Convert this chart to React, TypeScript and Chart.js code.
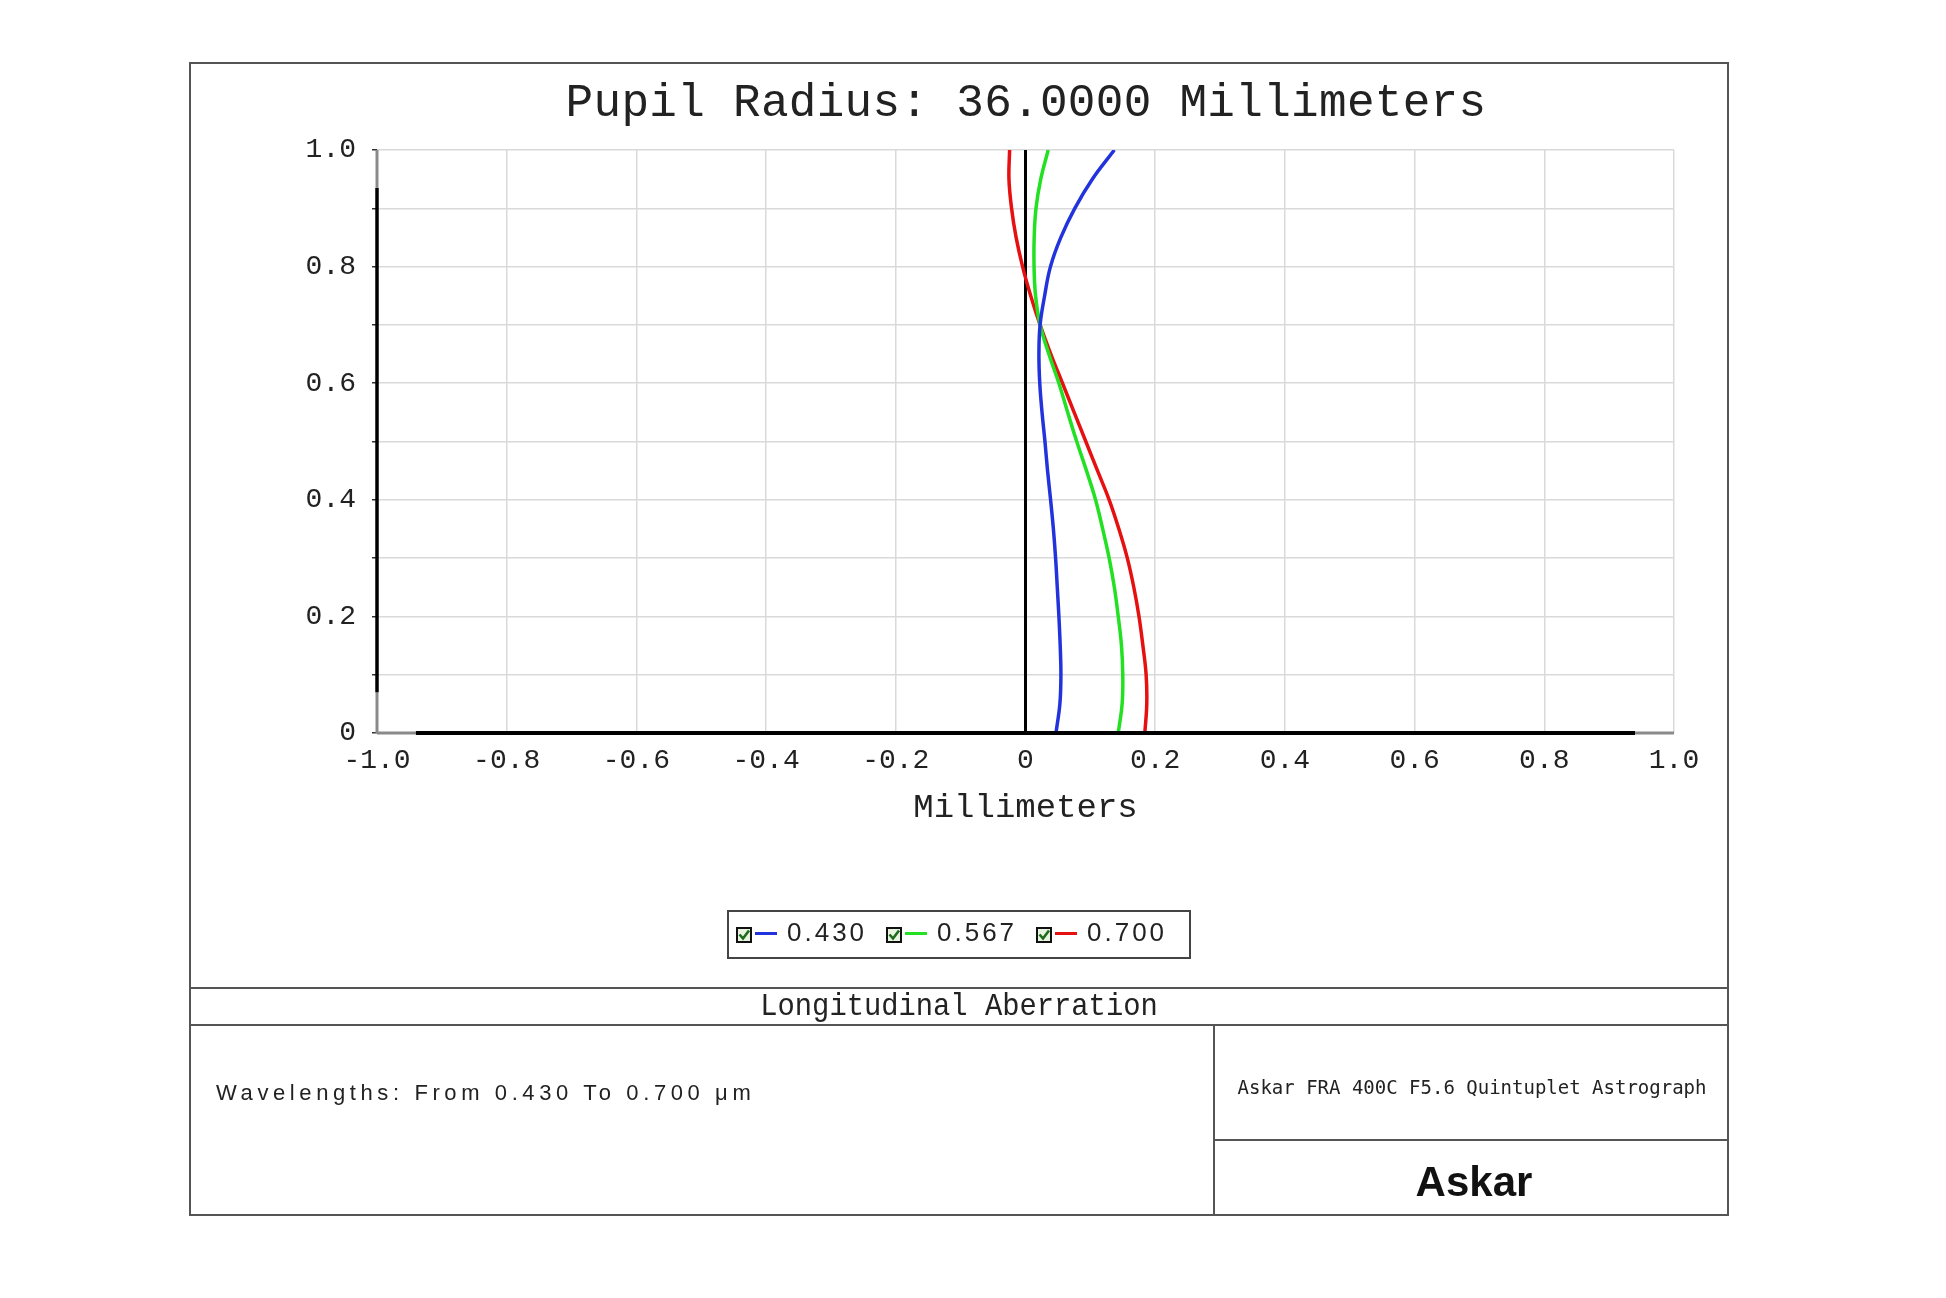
import React, { useEffect, useRef } from 'react';
import { Chart, registerables } from 'chart.js';

Chart.register(...registerables);

// Normalized pupil coordinate (y axis)
const PUPIL_Y = [0, 0.05, 0.1, 0.15, 0.2, 0.25, 0.3, 0.35, 0.4, 0.45, 0.5, 0.55, 0.6, 0.65, 0.7, 0.75, 0.8, 0.85, 0.9, 0.95, 1.0];

// Longitudinal aberration (mm) per wavelength
const ABERR_430 = [0.047, 0.053, 0.0546, 0.0535, 0.0515, 0.049, 0.0464, 0.043, 0.0387, 0.034, 0.030, 0.0255, 0.022, 0.0207, 0.0225, 0.0295, 0.0385, 0.0545, 0.076, 0.103, 0.137];
const ABERR_567 = [0.143, 0.149, 0.150, 0.148, 0.143, 0.137, 0.129, 0.119, 0.108, 0.094, 0.079, 0.065, 0.0515, 0.036, 0.0225, 0.0155, 0.0132, 0.0134, 0.0162, 0.0235, 0.035];
const ABERR_700 = [0.184, 0.187, 0.186, 0.181, 0.175, 0.167, 0.157, 0.144, 0.129, 0.111, 0.093, 0.075, 0.057, 0.039, 0.0225, 0.008, -0.0045, -0.0145, -0.0215, -0.0255, -0.0245];

const WAVELENGTHS = ['0.430', '0.567', '0.700'];
const SERIES = [ABERR_430, ABERR_567, ABERR_700];
const COLORS = ['#2233dd', '#22e022', '#e61010'];

const X_TICK_LABELS = ['-1.0', '-0.8', '-0.6', '-0.4', '-0.2', '0', '0.2', '0.4', '0.6', '0.8', '1.0'];
const Y_TICK_LABELS = ['0', '0.2', '0.4', '0.6', '0.8', '1.0'];

const MONO = '"Liberation Mono", "Courier New", monospace';
const SANS = '"Liberation Sans", Arial, sans-serif';

const axisPlugin = {
  id: 'axisLines',
  beforeDatasetsDraw(chart: any) {
    const { ctx, scales } = chart;
    const x0 = scales.x.getPixelForValue(0);
    ctx.save();
    ctx.strokeStyle = '#000';
    ctx.lineWidth = 3;
    ctx.beginPath();
    ctx.moveTo(x0, scales.y.getPixelForValue(0));
    ctx.lineTo(x0, scales.y.getPixelForValue(1));
    ctx.stroke();
    ctx.restore();
  },
  afterDraw(chart: any) {
    const { ctx, scales } = chart;
    const xs = scales.x, ys = scales.y;
    const yb = ys.getPixelForValue(0);
    const xl = xs.getPixelForValue(-1);
    ctx.save();
    const seg = (x1: number, y1: number, x2: number, y2: number, c: string, w: number) => {
      ctx.strokeStyle = c; ctx.lineWidth = w; ctx.beginPath(); ctx.moveTo(x1, y1); ctx.lineTo(x2, y2); ctx.stroke();
    };
    // x axis
    seg(xs.getPixelForValue(-1), yb, xs.getPixelForValue(-0.94), yb, '#8a8a8a', 3);
    seg(xs.getPixelForValue(-0.94), yb, xs.getPixelForValue(0.94), yb, '#000', 4);
    seg(xs.getPixelForValue(0.94), yb, xs.getPixelForValue(1), yb, '#8a8a8a', 3);
    // y axis
    seg(xl, ys.getPixelForValue(0), xl, ys.getPixelForValue(0.07), '#8a8a8a', 3);
    seg(xl, ys.getPixelForValue(0.07), xl, ys.getPixelForValue(0.935), '#000', 3.5);
    seg(xl, ys.getPixelForValue(0.935), xl, ys.getPixelForValue(1), '#8a8a8a', 3);
    ctx.restore();
  },
};

function ChartCanvas() {
  const ref = useRef<HTMLCanvasElement | null>(null);
  useEffect(() => {
    if (!ref.current) return;
    const chart = new Chart(ref.current, {
      type: 'scatter',
      data: {
        datasets: SERIES.map((xs, i) => ({
          label: WAVELENGTHS[i],
          data: xs.map((x, j) => ({ x, y: PUPIL_Y[j] })),
          showLine: true,
          borderColor: COLORS[i],
          backgroundColor: COLORS[i],
          borderWidth: 3.5,
          pointRadius: 0,
          tension: 0.4,
          fill: false,
        })),
      },
      options: {
        animation: false,
        responsive: false,
        maintainAspectRatio: false,
        devicePixelRatio: 1,
        layout: { padding: { left: 60, right: 55, top: 88, bottom: 926 - 671 - 95 } },
        plugins: {
          legend: { display: false },
          tooltip: { enabled: false },
          title: { display: false },
        },
        scales: {
          x: {
            type: 'linear',
            min: -1,
            max: 1,
            afterFit: (s: any) => { s.height = 95; },
            ticks: {
              stepSize: 0.2,
              autoSkip: false,
              maxRotation: 0,
              padding: 11,
              color: '#222',
              font: { family: MONO, size: 28 },
              callback: (v: any) => X_TICK_LABELS[Math.round((Number(v) + 1) / 0.2)] ?? '',
            },
            grid: { color: '#d9d9d9', lineWidth: 1.5, drawTicks: false },
            border: { display: false },
            title: {
              display: true,
              text: 'Millimeters',
              color: '#222',
              font: { family: MONO, size: 34 },
              padding: 0,
            },
          },
          y: {
            type: 'linear',
            min: 0,
            max: 1,
            afterFit: (s: any) => { s.width = 128; },
            ticks: {
              stepSize: 0.1,
              autoSkip: false,
              padding: 16,
              color: '#222',
              font: { family: MONO, size: 28 },
              callback: (v: any) => {
                const k = Math.round(Number(v) * 10);
                return k % 2 === 0 ? Y_TICK_LABELS[k / 2] : '';
              },
            },
            grid: { color: '#d9d9d9', lineWidth: 1.5, tickLength: 5, tickColor: '#333', drawTicks: true },
            border: { display: false },
          },
        },
      },
      plugins: [axisPlugin],
    } as any);
    return () => chart.destroy();
  }, []);
  return (
    <canvas
      ref={ref}
      width={1540}
      height={926}
      style={{ position: 'absolute', left: 189, top: 62, width: 1540, height: 926 }}
    />
  );
}

function Txt(props: { x: number; y: number; align?: 'left' | 'center'; family: string; size: number; weight?: number; ls?: number; sx?: number; color?: string; children: React.ReactNode }) {
  const { x, y, align = 'left', family, size, weight = 400, ls = 0, sx = 1, color = '#222', children } = props;
  const tx = align === 'center' ? '-50%' : '0';
  return (
    <div
      style={{
        position: 'absolute',
        left: x,
        top: y,
        fontFamily: family,
        fontSize: size,
        fontWeight: weight,
        letterSpacing: ls,
        lineHeight: 1,
        whiteSpace: 'nowrap',
        color,
        transform: `translate(${tx}, -50%) scaleX(${sx})`,
        transformOrigin: align === 'center' ? '50% 50%' : '0 50%',
      }}
    >
      {children}
    </div>
  );
}

function CheckBox({ x, y }: { x: number; y: number }) {
  return (
    <svg width={16} height={16} style={{ position: 'absolute', left: x, top: y }} viewBox="0 0 16 16">
      <rect x={1} y={1} width={14} height={14} fill="#e8f3e0" stroke="#111" strokeWidth={2} />
      <path d="M3.5 7.5 L7 11.5 L13 3.5" fill="none" stroke="#1d6b1d" strokeWidth={2.6} />
    </svg>
  );
}

const LEGEND_X = [736, 886, 1036];

export default function App() {
  const line = '#555';
  return (
    <div style={{ position: 'absolute', left: 0, top: 0, width: 1946, height: 1298, background: '#fff', overflow: 'hidden' }}>
      <ChartCanvas />
      {/* frame */}
      <div style={{ position: 'absolute', left: 189, top: 62, width: 1540, height: 1154, border: `2px solid ${line}`, boxSizing: 'border-box' }} />
      <div style={{ position: 'absolute', left: 189, top: 987, width: 1540, height: 2, background: line }} />
      <div style={{ position: 'absolute', left: 189, top: 1024, width: 1540, height: 2, background: line }} />
      <div style={{ position: 'absolute', left: 1213, top: 1025, width: 2, height: 191, background: line }} />
      <div style={{ position: 'absolute', left: 1214, top: 1139, width: 515, height: 2, background: line }} />

      <Txt x={1026} y={104} align="center" family={MONO} size={46} ls={0.3}>Pupil Radius: 36.0000 Millimeters</Txt>

      {/* legend */}
      <div style={{ position: 'absolute', left: 727, top: 910, width: 464, height: 49, border: '2px solid #444', boxSizing: 'border-box' }} />
      {WAVELENGTHS.map((w, i) => (
        <React.Fragment key={w}>
          <CheckBox x={LEGEND_X[i]} y={927} />
          <div style={{ position: 'absolute', left: LEGEND_X[i] + 19, top: 932, width: 22, height: 3, background: COLORS[i] }} />
          <Txt x={LEGEND_X[i] + 51} y={932} family={SANS} size={26} ls={3}>{w}</Txt>
        </React.Fragment>
      ))}

      <Txt x={959} y={1007} align="center" family={MONO} size={32} sx={0.9}>Longitudinal Aberration</Txt>
      <Txt x={216} y={1093} family={SANS} size={22} ls={4.6}>Wavelengths: From 0.430 To 0.700 μm</Txt>
      <Txt x={1472} y={1087} align="center" family={'"DejaVu Sans Mono", monospace'} size={19}>Askar FRA 400C F5.6 Quintuplet Astrograph</Txt>
      <Txt x={1474} y={1182} align="center" family={SANS} size={42} weight={700} color="#111">Askar</Txt>
    </div>
  );
}
